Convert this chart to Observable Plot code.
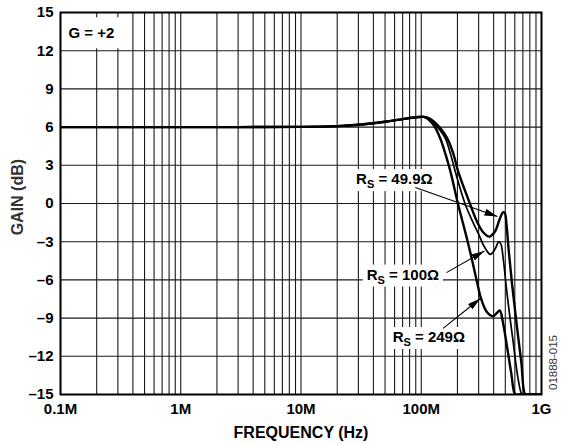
<!DOCTYPE html>
<html>
<head>
<meta charset="utf-8">
<script src="https://cdn.jsdelivr.net/npm/d3@7"></script>
<script src="https://cdn.jsdelivr.net/npm/@observablehq/plot@0.6"></script>
<style>
  html, body { margin: 0; padding: 0; background: white; }
</style>
</head>
<body>
<script>
// ---- Data ----
const f499 = [1e5, 1e6, 3e6, 1e7, 2e7, 3e7, 5e7, 7e7, 9e7, 1.05e8, 1.13e8, 1.27e8, 1.46e8, 1.65e8, 1.85e8, 2.03e8, 2.56e8, 2.9e8, 3.3e8, 3.68e8, 4.1e8, 4.5e8, 4.78e8, 4.95e8, 5.12e8, 5.35e8, 5.7e8, 6.2e8, 6.8e8, 7.33e8, 7.8e8, 1e9];
const g499 = [6.0, 6.0, 6.0, 6.02, 6.08, 6.18, 6.42, 6.63, 6.77, 6.8, 6.75, 6.45, 5.85, 5.1, 3.9, 2.5, -0.1, -1.4, -2.3, -2.6, -2.2, -1.2, -0.7, -0.75, -1.7, -3.8, -6.4, -9.4, -12.5, -15, -15, -15];

const f100 = [1e5, 1e6, 3e6, 1e7, 2e7, 3e7, 5e7, 7e7, 9e7, 1.05e8, 1.12e8, 1.25e8, 1.42e8, 1.59e8, 1.75e8, 1.92e8, 2.33e8, 2.7e8, 3.0e8, 3.35e8, 3.75e8, 4.1e8, 4.42e8, 4.6e8, 4.8e8, 5.2e8, 5.8e8, 6.4e8, 6.9e8, 7.3e8, 1e9];
const g100 = [6.0, 6.0, 6.0, 6.02, 6.08, 6.18, 6.42, 6.63, 6.77, 6.8, 6.72, 6.4, 5.8, 5.1, 3.9, 2.5, -0.1, -1.5, -2.4, -3.4, -4.0, -3.6, -3.0, -3.2, -4.3, -7.3, -10.8, -13.8, -15, -15, -15];

const f249 = [1e5, 1e6, 3e6, 1e7, 2e7, 3e7, 5e7, 7e7, 9e7, 1.05e8, 1.15e8, 1.3e8, 1.44e8, 1.6e8, 1.75e8, 2.03e8, 2.42e8, 2.7e8, 2.93e8, 3.15e8, 3.5e8, 3.95e8, 4.25e8, 4.5e8, 4.75e8, 5.2e8, 5.6e8, 6.05e8, 6.5e8, 1e9];
const g249 = [6.0, 6.0, 6.0, 6.02, 6.08, 6.18, 6.42, 6.63, 6.77, 6.8, 6.6, 6.0, 5.1, 3.8, 2.5, -0.1, -2.9, -4.8, -6.3, -7.5, -8.5, -8.85, -8.6, -8.4, -9.2, -11.4, -13.3, -15, -15, -15];

// tick values and labels
const xTicks = [1e5, 1e6, 1e7, 1e8, 1e9];
const xTickLabels = ["0.1M", "1M", "10M", "100M", "1G"];
const yTicks = [-15, -12, -9, -6, -3, 0, 3, 6, 9, 12, 15];
const yTickLabels = ["\u201315", "\u201312", "\u20139", "\u20136", "\u20133", "0", "3", "6", "9", "12", "15"];

// annotations (data coordinates)
const labelText = ["R_S = 49.9\u03A9", "R_S = 100\u03A9", "R_S = 249\u03A9"];
const labelF = [5.97e7, 7.03e7, 1.156e8];
const labelG = [1.9, -5.6, -10.5];
const arrowF1 = [8.93e7, 1.62e8, 1.52e8];
const arrowG1 = [1.25, -5.43, -9.81];
const arrowF2 = [4.3e8, 3.35e8, 3.1e8];
const arrowG2 = [-1.02, -3.73, -7.46];

// ---- Build tables ----
const toRows = (f, g) => f.map((v, i) => ({f: v, g: g[i]}));
const s499 = toRows(f499, g499);
const s100 = toRows(f100, g100);
const s249 = toRows(f249, g249);
const labels = labelText.map((t, i) => ({t, f: labelF[i], g: labelG[i]}));
const arrows = arrowF1.map((v, i) => ({f1: v, g1: arrowG1[i], f2: arrowF2[i], g2: arrowG2[i]}));

// minor log grid: 1..9 per decade
const xGrid = [];
for (let e = 5; e < 9; e++) for (let m = 1; m <= 9; m++) xGrid.push(m * Math.pow(10, e));
xGrid.push(1e9);

const font = "'Liberation Sans', Arial, Helvetica, sans-serif";
const ARROW = "#010101";

const chart = Plot.plot({
  width: 570,
  height: 445,
  marginLeft: 60,
  marginRight: 29,
  marginTop: 12,
  marginBottom: 51,
  style: {fontFamily: font, fontSize: "15px", fontWeight: "bold", background: "white", color: "black"},
  x: {type: "log", domain: [1e5, 1e9]},
  y: {domain: [-15, 15]},
  marks: [
    Plot.gridX(xGrid, {stroke: "#1a1a1a", strokeOpacity: 1, strokeWidth: 1.1}),
    Plot.gridY(yTicks, {stroke: "#1a1a1a", strokeOpacity: 1, strokeWidth: 1.1}),
    Plot.text(labels, {x: "f", y: "g", text: "t", textAnchor: "middle", lineAnchor: "middle", fontSize: 15, fontWeight: "bold", fill: "black"}),
    Plot.text(["G = +2"], {text: d => d, frameAnchor: "top-left", dx: 8, dy: 21, textAnchor: "start", lineAnchor: "middle", fontSize: 15, fontWeight: "bold", fill: "black"}),
    Plot.line(s249, {x: "f", y: "g", curve: "catmull-rom", stroke: "black", strokeWidth: 2.4, clip: true}),
    Plot.line(s100, {x: "f", y: "g", curve: "catmull-rom", stroke: "black", strokeWidth: 1.7, clip: true}),
    Plot.line(s499, {x: "f", y: "g", curve: "catmull-rom", stroke: "black", strokeWidth: 2.4, clip: true}),
    Plot.link(arrows, {x1: "f1", y1: "g1", x2: "f2", y2: "g2", stroke: ARROW, strokeWidth: 1.1}),
    Plot.frame({stroke: "black", strokeWidth: 2}),
    Plot.axisX(xTicks, {tickSize: 0, tickPadding: 9, tickFormat: (d) => xTickLabels[xTicks.indexOf(d)], label: null, fontSize: 15, fontWeight: "bold"}),
    Plot.axisY(yTicks, {tickSize: 0, tickPadding: 7, tickFormat: d => yTickLabels[yTicks.indexOf(d)], label: null, fontSize: 15, fontWeight: "bold"}),
    Plot.text(["FREQUENCY (Hz)"], {text: d => d, frameAnchor: "bottom", dy: 38, textAnchor: "middle", lineAnchor: "middle", fontSize: 16, fontWeight: "bold", fill: "black"}),
    Plot.text(["GAIN (dB)"], {text: d => d, y: [0.5], frameAnchor: "left", dx: -43, rotate: -90, textAnchor: "middle", lineAnchor: "middle", fontSize: 16, fontWeight: "bold", fill: "#333"}),
    Plot.text(["01888-015"], {text: d => d, frameAnchor: "bottom-right", dx: 12, dy: -32, rotate: -90, textAnchor: "middle", lineAnchor: "middle", fontSize: 11.5, fontWeight: "normal", fill: "#333"})
  ]
});

document.body.append(chart);

// ---- post-processing: subscripts, white label boxes, filled arrowheads ----
const NS = "http://www.w3.org/2000/svg";
chart.querySelectorAll("text").forEach(t => {
  const txt = t.textContent;
  let padX = null, padY = null;
  if (txt.startsWith("R_S")) {
    const rest = txt.slice(3);
    t.textContent = "R";
    const sub = document.createElementNS(NS, "tspan");
    sub.setAttribute("dy", "4");
    sub.setAttribute("font-size", "11");
    sub.textContent = "S";
    const r = document.createElementNS(NS, "tspan");
    r.setAttribute("dy", "-4");
    r.textContent = rest;
    t.append(sub, r);
    padX = 4; padY = 1;
  } else if (txt === "G = +2") {
    padX = 7; padY = 7;
  }
  if (padX !== null) {
    const b = t.getBBox();
    const rect = document.createElementNS(NS, "rect");
    rect.setAttribute("x", b.x - padX);
    rect.setAttribute("y", b.y - padY);
    rect.setAttribute("width", b.width + 2 * padX);
    rect.setAttribute("height", b.height + 2 * padY);
    rect.setAttribute("fill", "white");
    rect.setAttribute("stroke", "none");
    if (t.getAttribute("transform")) rect.setAttribute("transform", t.getAttribute("transform"));
    t.parentNode.insertBefore(rect, t);
  }
});

const defs = document.createElementNS(NS, "defs");
const marker = document.createElementNS(NS, "marker");
marker.setAttribute("id", "filled-head");
marker.setAttribute("viewBox", "0 0 13 7");
marker.setAttribute("refX", "13");
marker.setAttribute("refY", "3.5");
marker.setAttribute("markerWidth", "13");
marker.setAttribute("markerHeight", "7");
marker.setAttribute("markerUnits", "userSpaceOnUse");
marker.setAttribute("orient", "auto");
const mp = document.createElementNS(NS, "path");
mp.setAttribute("d", "M0,0L13,3.5L0,7Z");
mp.setAttribute("fill", "black");
mp.setAttribute("stroke", "none");
marker.append(mp);
defs.append(marker);
chart.insertBefore(defs, chart.firstChild);
chart.querySelectorAll(`g[stroke="${ARROW}"] path, g[stroke="${ARROW}"] line`).forEach(p => {
  p.setAttribute("marker-end", "url(#filled-head)");
});
</script>
</body>
</html>
